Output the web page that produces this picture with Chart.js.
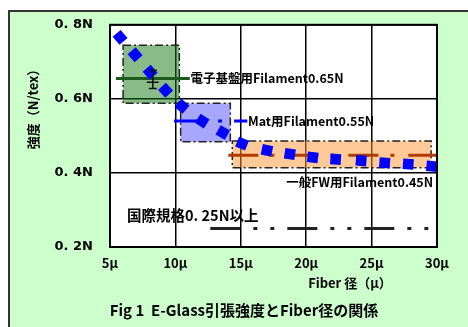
<!DOCTYPE html>
<html><head><meta charset="utf-8">
<script src="https://cdn.jsdelivr.net/npm/chart.js@4/dist/chart.umd.min.js"></script>
<style>html,body{margin:0;padding:0;background:#fff;}canvas{display:block;}</style>
</head><body>
<canvas id="c" width="468" height="327"></canvas>
<script>
// ---- data ----
const fiberDiameter = [5.77, 6.92, 8.07, 9.25, 10.5, 12.05, 13.62, 15.1, 17.0, 18.75, 20.5, 22.25, 24.2, 26.0, 27.8, 29.6];
const tensileStrength = [0.766, 0.719, 0.672, 0.623, 0.580, 0.540, 0.509, 0.479, 0.461, 0.451, 0.442, 0.437, 0.433, 0.427, 0.424, 0.418];

const rangeNames = ['電子基盤用Filament0.65N', 'Mat用Filament0.55N', '一般FW用Filament0.45N'];
const rangeXMin = [6.0, 10.4, 14.35];
const rangeXMax = [10.3, 14.2, 29.55];
const rangeYMin = [0.588, 0.484, 0.414];
const rangeYMax = [0.745, 0.588, 0.486];

const levelY = [0.655, 0.54, 0.448, 0.25];
const levelXStart = [5.45, 9.9, 14.05, 12.67];
const levelXEnd = [11.1, 15.5, 30.05, 30.25];
const standardLabel = '国際規格0. 25N以上';

const errX = 8.27, errLow = 0.628, errMid = 0.645, errHigh = 0.677;

const xTicks = [5, 10, 15, 20, 25, 30];
const yTickLabels = {0.2: '0. 2N', 0.4: '0. 4N', 0.6: '0. 6N', 0.8: '0. 8N'};

const yTitle = '強度（N/tex）';
const xTitle = 'Fiber 径（μ）';
const caption = 'Fig 1  E-Glass引張強度とFiber径の関係';

// ---- styles ----
const CJK = '"Noto Sans CJK JP", "DejaVu Sans", sans-serif';
const rangeFill = ['rgba(20,120,20,0.5)', 'rgba(80,80,255,0.5)', 'rgba(255,150,50,0.5)'];
const levelColor = ['#1d5a1d', '#0000ff', '#b03a00', '#222'];
const levelDash = [[], [32, 12, 4, 12], [30, 12, 4, 14], [30, 13, 4, 13, 4, 13]];

const levelDatasets = levelY.map((y, i) => ({
  type: 'line',
  data: [{x: levelXStart[i], y: y}, {x: levelXEnd[i], y: y}],
  borderColor: levelColor[i],
  borderWidth: 3,
  borderDash: levelDash[i],
  pointRadius: 0,
  clip: false,
  order: 2
}));

const bgPlugin = {
  id: 'bg',
  beforeDraw(chart) {
    const ctx = chart.ctx, a = chart.chartArea;
    ctx.save();
    ctx.fillStyle = '#fff';
    ctx.fillRect(0, 0, chart.width, chart.height);
    ctx.fillStyle = '#ccffcc';
    ctx.fillRect(8, 10, chart.width, chart.height);
    ctx.strokeStyle = '#333';
    ctx.lineWidth = 2;
    ctx.beginPath();
    ctx.moveTo(9, chart.height + 2);
    ctx.lineTo(9, 11);
    ctx.lineTo(chart.width + 2, 11);
    ctx.stroke();
    ctx.fillStyle = '#fff';
    ctx.fillRect(a.left, a.top, a.right - a.left, a.bottom - a.top);
    ctx.restore();
  },
  beforeDatasetsDraw(chart) {
    const ctx = chart.ctx, xs = chart.scales.x, ys = chart.scales.y;
    ctx.save();
    for (let i = 0; i < rangeXMin.length; i++) {
      const x0 = xs.getPixelForValue(rangeXMin[i]), x1 = xs.getPixelForValue(rangeXMax[i]);
      const y0 = ys.getPixelForValue(rangeYMax[i]), y1 = ys.getPixelForValue(rangeYMin[i]);
      ctx.fillStyle = rangeFill[i];
      ctx.fillRect(x0, y0, x1 - x0, y1 - y0);
      ctx.strokeStyle = '#222';
      ctx.lineWidth = 1.5;
      ctx.setLineDash([8, 3, 2, 3]);
      ctx.strokeRect(x0, y0, x1 - x0, y1 - y0);
    }
    ctx.restore();
  },
  afterDatasetsDraw(chart) {
    const ctx = chart.ctx, xs = chart.scales.x, ys = chart.scales.y, a = chart.chartArea;
    ctx.save();
    // plot frame
    ctx.strokeStyle = '#000';
    ctx.lineWidth = 2;
    ctx.strokeRect(a.left, a.top, a.right - a.left, a.bottom - a.top);
    // error bar
    const ex = xs.getPixelForValue(errX);
    const eh = ys.getPixelForValue(errHigh), el = ys.getPixelForValue(errLow), em = ys.getPixelForValue(errMid);
    ctx.strokeStyle = '#111';
    ctx.lineWidth = 1.5;
    ctx.beginPath();
    ctx.moveTo(ex, eh); ctx.lineTo(ex, el);
    ctx.moveTo(ex - 4, eh); ctx.lineTo(ex + 4, eh);
    ctx.moveTo(ex - 4, el); ctx.lineTo(ex + 4, el);
    ctx.moveTo(ex - 6, em); ctx.lineTo(ex + 6, em);
    ctx.stroke();
    // annotations
    ctx.fillStyle = '#000';
    ctx.textBaseline = 'middle';
    ctx.font = 'bold 12.5px ' + CJK;
    ctx.textAlign = 'left';
    ctx.fillText(rangeNames[0], xs.getPixelForValue(11.15), ys.getPixelForValue(levelY[0]));
    ctx.fillText(rangeNames[1], xs.getPixelForValue(15.55), ys.getPixelForValue(levelY[1]));
    ctx.textAlign = 'right';
    ctx.fillText(rangeNames[2], xs.getPixelForValue(29.7), ys.getPixelForValue(0.374));
    ctx.textAlign = 'left';
    ctx.font = 'bold 14.5px ' + CJK;
    ctx.fillText(standardLabel, xs.getPixelForValue(6.3), ys.getPixelForValue(0.285));
    ctx.restore();
  },
  afterDraw(chart) {
    const ctx = chart.ctx;
    ctx.save();
    ctx.fillStyle = '#000';
    ctx.textAlign = 'center';
    ctx.textBaseline = 'middle';
    ctx.font = 'bold 13px ' + CJK;
    ctx.fillText(xTitle, 350, 283);
    ctx.font = 'bold 15px ' + CJK;
    ctx.fillText(caption, 244, 310);
    ctx.translate(33, 106);
    ctx.rotate(-Math.PI / 2);
    ctx.font = 'bold 13px ' + CJK;
    ctx.fillText(yTitle, 0, 0);
    ctx.restore();
  }
};

new Chart(document.getElementById('c'), {
  type: 'scatter',
  data: {
    datasets: [{
      type: 'scatter',
      data: fiberDiameter.map((x, i) => ({x: x, y: tensileStrength[i]})),
      pointStyle: 'rect',
      pointRadius: 7.5,
      backgroundColor: '#0000ff',
      borderColor: '#0000ff',
      borderWidth: 0,
      pointRotation: (c) => {
        const d = c.dataset.data, i = c.dataIndex;
        if (!d || !d.length) return 0;
        const p = d[Math.max(0, i - 1)], q = d[Math.min(d.length - 1, i + 1)];
        const xs = c.chart.scales.x, ys = c.chart.scales.y;
        return Math.atan2(ys.getPixelForValue(q.y) - ys.getPixelForValue(p.y),
                          xs.getPixelForValue(q.x) - xs.getPixelForValue(p.x)) * 180 / Math.PI;
      },
      clip: false,
      order: 1
    }, ...levelDatasets]
  },
  options: {
    responsive: false,
    animation: false,
    devicePixelRatio: 1,
    layout: {padding: {top: 23, right: 31, left: 0, bottom: 0}},
    plugins: {legend: {display: false}, tooltip: {enabled: false}},
    scales: {
      x: {
        type: 'linear', min: 5, max: 30,
        afterBuildTicks: (s) => { s.ticks = xTicks.map(v => ({value: v})); },
        afterFit: (s) => { s.height = 80; },
        ticks: {callback: (v) => v + 'μ', color: '#000', padding: 8,
                font: {family: CJK, size: 13, weight: 'bold'}, maxRotation: 0},
        grid: {color: '#000', lineWidth: 1.5, drawTicks: false},
        border: {display: false}
      },
      y: {
        type: 'linear', min: 0.2, max: 0.8,
        ticks: {stepSize: 0.1, color: '#000', padding: 17,
                callback: (v) => yTickLabels[Math.round(v * 10) / 10] || null,
                font: {family: '"DejaVu Sans", sans-serif', size: 13, weight: 'bold'}},
        afterFit: (s) => { s.width = 110; },
        grid: {color: '#000', lineWidth: 1.5, drawTicks: false},
        border: {display: false}
      }
    }
  },
  plugins: [bgPlugin]
});
</script>
</body></html>
